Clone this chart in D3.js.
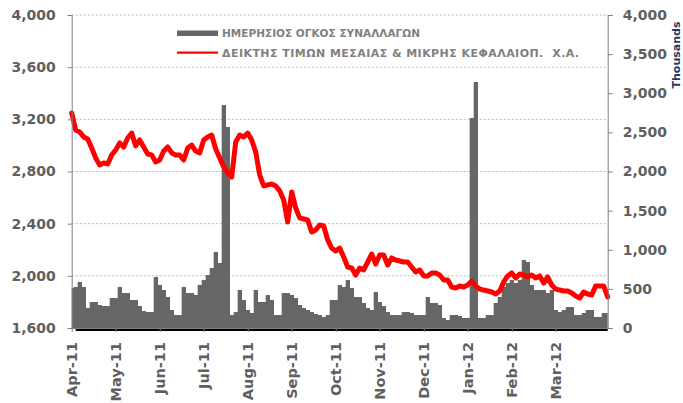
<!DOCTYPE html>
<html><head><meta charset="utf-8">
<script src="https://cdn.jsdelivr.net/npm/d3@7"></script>
<style>
body{margin:0;background:#fff;}
svg{display:block;font-family:"DejaVu Sans",Verdana,sans-serif;}
</style></head>
<body><svg id="c" width="683" height="403"></svg>
<script>
// Month labels (category axis, 22 trading days per month)
const monthLabels = ["Apr-11","May-11","Jun-11","Jul-11","Aug-11","Sep-11","Oct-11","Nov-11","Dec-11","Jan-12","Feb-12","Mar-12"];
const daysPerMonth = 22;
const totalDays = 268;
// one sample every 2 trading days
const sampleStep = 2;

// Index of mid & small cap (left axis)
const indexValues = [
3249,3118,3103,3065,3049,2980,2904,2850,2865,2858,
2927,2965,3019,2988,3057,3095,2996,3042,2988,2934,
2927,2873,2888,2957,2988,2942,2927,2927,2888,2980,
3003,2957,2942,3042,3065,3080,2973,2904,2835,2789,
2758,3026,3080,3065,3095,3042,2950,2773,2689,2697,
2704,2689,2651,2582,2413,2643,2520,2444,2436,2428,
2336,2352,2390,2382,2275,2213,2190,2213,2144,2068,
2060,2006,2060,2045,2106,2167,2091,2160,2160,2083,
2137,2121,2114,2106,2106,2068,2029,2045,1999,1999,
2022,2022,2006,1968,1968,1914,1907,1922,1914,1930,
1960,1922,1899,1891,1884,1876,1861,1884,1953,1999,
2022,1983,2014,2006,1991,2006,1983,1999,1945,1991,
1930,1899,1891,1884,1884,1868,1845,1830,1876,1861,
1853,1922,1922,1922,1838];

// Daily trading volume, thousands (right axis)
const volumeValues = [
511,524,588,524,256,332,332,294,281,281,
383,383,524,447,447,358,358,281,217,204,
204,652,550,486,396,230,166,166,524,447,
447,422,550,613,677,767,971,831,2850,2569,
166,204,486,358,230,192,486,332,332,422,
358,166,166,447,447,422,383,294,256,230,
204,179,166,141,166,358,358,550,524,613,
511,396,396,320,256,230,460,332,281,204,
166,166,166,204,204,192,166,166,166,396,
320,320,294,128,102,166,166,153,128,128,
2684,3144,128,128,166,166,320,396,524,575,
613,575,613,869,843,550,486,486,486,447,
486,230,204,230,268,268,166,166,192,230,
230,141,141,192,192];

const leftTicks = [1600,2000,2400,2800,3200,3600,4000];
const rightTicks = [0,500,1000,1500,2000,2500,3000,3500,4000];
const legendLabels = ["ΗΜΕΡΗΣΙΟΣ ΟΓΚΟΣ ΣΥΝΑΛΛΑΓΩΝ","ΔΕΙΚΤΗΣ ΤΙΜΩΝ ΜΕΣΑΙΑΣ & ΜΙΚΡΗΣ ΚΕΦΑΛΑΙΟΠ.  Χ.Α."];

const svg = d3.select("#c");
const L = 71.7, R = 607.7, T = 15, B = 328;
const x = d3.scaleLinear().domain([0,totalDays]).range([L,R]);
const yL = d3.scaleLinear().domain([1600,4000]).range([B,T]);
const yR = d3.scaleLinear().domain([0,4000]).range([B,T]);

svg.append("defs").append("clipPath").attr("id","clip")
  .append("rect").attr("x",L).attr("y",0).attr("width",R-L).attr("height",B+1);

// gridlines
svg.append("g").selectAll("line").data(leftTicks.slice(1)).join("line")
  .attr("x1",L).attr("x2",R).attr("y1",d=>yL(d)).attr("y2",d=>yL(d))
  .attr("stroke","#b8b8b8").attr("stroke-width",1).attr("stroke-dasharray","2,2");

// volume bars
svg.append("g").attr("clip-path","url(#clip)").selectAll("rect").data(volumeValues).join("rect")
  .attr("x",(d,i)=>x(i*sampleStep-1))
  .attr("width",x(sampleStep)-x(0)+0.3)
  .attr("y",d=>yR(d))
  .attr("height",d=>yR(0)-yR(d))
  .attr("fill","#666666");

// baseline under bars
svg.append("line").attr("x1",x(2)).attr("x2",R).attr("y1",B+2).attr("y2",B+2)
  .attr("stroke","#000").attr("stroke-width",2);

// index line
const line = d3.line().x((d,i)=>x(i*sampleStep)).y(d=>yL(d)).curve(d3.curveLinear);
svg.append("path").datum(indexValues).attr("d",line)
  .attr("fill","none").attr("stroke","#ff0000").attr("stroke-width",5)
  .attr("stroke-linejoin","round").attr("stroke-linecap","round");

const axisColor = "#7f7f7f";
const labelColor = "#5f5f5f";

// left axis
const gL = svg.append("g").attr("transform",`translate(${L},0)`)
  .call(d3.axisLeft(yL).tickValues(leftTicks).tickFormat(d3.format(",")).tickSize(4).tickPadding(12));
// right axis
const gR = svg.append("g").attr("transform",`translate(${R},0)`)
  .call(d3.axisRight(yR).tickValues(rightTicks).tickFormat(d3.format(",")).tickSize(5).tickPadding(10));
// bottom axis
const gB = svg.append("g").attr("transform",`translate(0,${B})`)
  .call(d3.axisBottom(x).tickValues(monthLabels.map((m,i)=>i*daysPerMonth))
    .tickFormat((d,i)=>monthLabels[i]).tickSize(4).tickSizeOuter(0));

[gL,gR,gB].forEach(g=>{
  g.select(".domain").attr("stroke",axisColor).attr("stroke-width",1);
  g.selectAll(".tick line").attr("stroke",axisColor);
  g.selectAll("text").attr("fill",labelColor).attr("font-weight","bold")
    .attr("font-size","14px").attr("font-family","'DejaVu Sans',Verdana,sans-serif");
});
gB.selectAll("text").attr("transform","rotate(-90)").attr("font-size","14.5px")
  .attr("text-anchor","end").attr("x",-14).attr("y",0).attr("dy","0.36em");

// Thousands label
svg.append("text").attr("transform","translate(679.5,55) rotate(-90)")
  .attr("text-anchor","middle").attr("font-size","11px").attr("font-weight","bold")
  .attr("fill","#1f3864").text("Thousands");

// legend
const legendWidths = [198,357];
const lg = svg.append("g");
lg.append("rect").attr("x",177).attr("y",30.5).attr("width",41).attr("height",5.5).attr("fill","#666666");
lg.append("line").attr("x1",177).attr("x2",218).attr("y1",52.7).attr("y2",52.7)
  .attr("stroke","#ff0000").attr("stroke-width",2.2);
lg.selectAll("text").data(legendLabels).join("text")
  .attr("x",222).attr("y",(d,i)=>i===0?33.5:53).attr("dy","0.35em")
  .attr("font-size",(d,i)=>i===0?"10.5px":"11px").attr("font-weight","bold").attr("fill","#808080")
  .attr("textLength",(d,i)=>legendWidths[i]).attr("lengthAdjust","spacing")
  .attr("xml:space","preserve").style("white-space","pre").text(d=>d);
</script></body></html>
